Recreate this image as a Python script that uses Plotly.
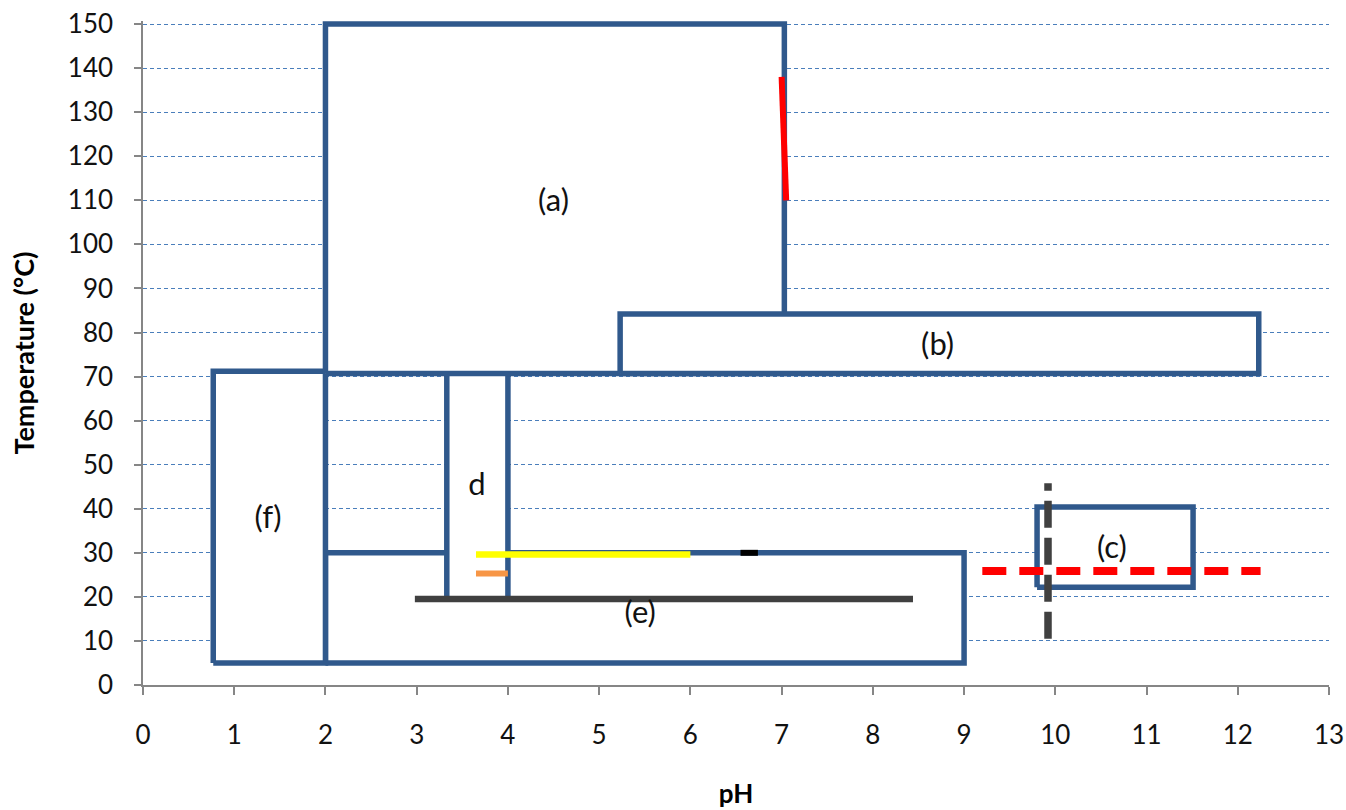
import plotly.graph_objects as go

# ---- data ----
box_labels = ["(e)", "d", "(f)", "(a)", "(b)", "(c)"]
box_ph_min = [2.0, 3.33, 0.77, 2.0, 5.23, 9.80]
box_ph_max = [9.0, 4.00, 2.00, 7.03, 12.23, 11.51]
box_t_min = [5.0, 19.5, 5.0, 70.7, 70.7, 22.2]
box_t_max = [30.0, 71.0, 71.2, 150.0, 84.2, 40.4]
label_ph = [5.45, 3.66, 1.37, 4.50, 8.71, 10.62]
label_t = [15.9, 44.9, 37.4, 109.4, 76.7, 30.6]

gray_line_ph = [2.98, 8.44]
gray_line_t = [19.5, 19.5]
yellow_line_ph = [3.65, 6.0]
yellow_line_t = [29.6, 29.6]
black_mark_ph = [6.55, 6.74]
black_mark_t = [30.0, 30.0]
orange_line_ph = [3.65, 4.0]
orange_line_t = [25.3, 25.3]
red_solid_ph = [7.0, 7.05]
red_solid_t = [138.0, 110.0]
red_dash_ph = [9.2, 12.25]
red_dash_t = [25.9, 25.9]
gray_dash_ph = [9.92, 9.92]
gray_dash_t = [10.5, 45.8]

x_ticks = list(range(0, 14))
y_ticks = list(range(0, 151, 10))

BLUE = "#30598c"
FONT = "Lato"

fig = go.Figure()

for i in range(len(box_labels)):
    x0, x1 = box_ph_min[i], box_ph_max[i]
    y0, y1 = box_t_min[i], box_t_max[i]
    fig.add_trace(go.Scatter(
        x=[x0, x1, x1, x0, x0], y=[y0, y0, y1, y1, y0],
        mode="lines", fill="toself", fillcolor="white",
        line=dict(color=BLUE, width=5.5),
        hoverinfo="skip", showlegend=False))

def seg(xs, ys, color, width, dash="solid"):
    fig.add_trace(go.Scatter(
        x=xs, y=ys, mode="lines",
        line=dict(color=color, width=width, dash=dash),
        hoverinfo="skip", showlegend=False))

seg(gray_line_ph, gray_line_t, "#404040", 6.5)
seg(yellow_line_ph, yellow_line_t, "#ffff00", 6.5)
seg(black_mark_ph, black_mark_t, "#000000", 6)
seg(orange_line_ph, orange_line_t, "#f79646", 6)
seg(red_solid_ph, red_solid_t, "#ff0000", 6)
seg(red_dash_ph, red_dash_t, "#ff0000", 8, "24px,13px")
seg(gray_dash_ph, gray_dash_t, "#404040", 7.5, "27px,10px")

fig.add_trace(go.Scatter(
    x=label_ph, y=label_t, mode="text", text=box_labels,
    textfont=dict(family=FONT, size=31, color="#111111"),
    hoverinfo="skip", showlegend=False))

fig.update_layout(
    width=1346, height=810,
    margin=dict(l=143, r=17, t=21, b=125),
    paper_bgcolor="white", plot_bgcolor="white",
    font=dict(family=FONT, color="#000000"),
    xaxis=dict(
        range=[0, 13], tickmode="array", tickvals=x_ticks,
        ticktext=[str(v) for v in x_ticks],
        showgrid=False, zeroline=False,
        showline=True, linecolor="#868686", linewidth=1.5,
        ticks="outside", ticklen=8, tickcolor="#868686", tickwidth=1.5,
        tickfont=dict(family=FONT, size=26, color="#111111"),
        ticklabelstandoff=18,
        title=dict(text="<b>pH</b>", font=dict(family=FONT, size=26, color="#000000"),
                   standoff=36),
        automargin=False),
    yaxis=dict(
        range=[0, 150.7], tickmode="array", tickvals=y_ticks,
        ticktext=[str(v) for v in y_ticks],
        showgrid=True, gridcolor="#4a7ebb", gridwidth=1.2, griddash="4px,3px",
        zeroline=False,
        showline=True, linecolor="#868686", linewidth=1.5,
        ticks="outside", ticklen=7, tickcolor="#868686", tickwidth=1.5,
        tickfont=dict(family=FONT, size=26, color="#111111"),
        ticklabelstandoff=16,
        title=dict(text="<b>Temperature (°C)</b>", font=dict(family=FONT, size=27, color="#000000"),
                   standoff=25),
        automargin=False),
)

fig.write_html("out.html",
               config={"displayModeBar": False},
               post_script="document.body.style.margin='0';document.body.style.overflow='hidden';")
